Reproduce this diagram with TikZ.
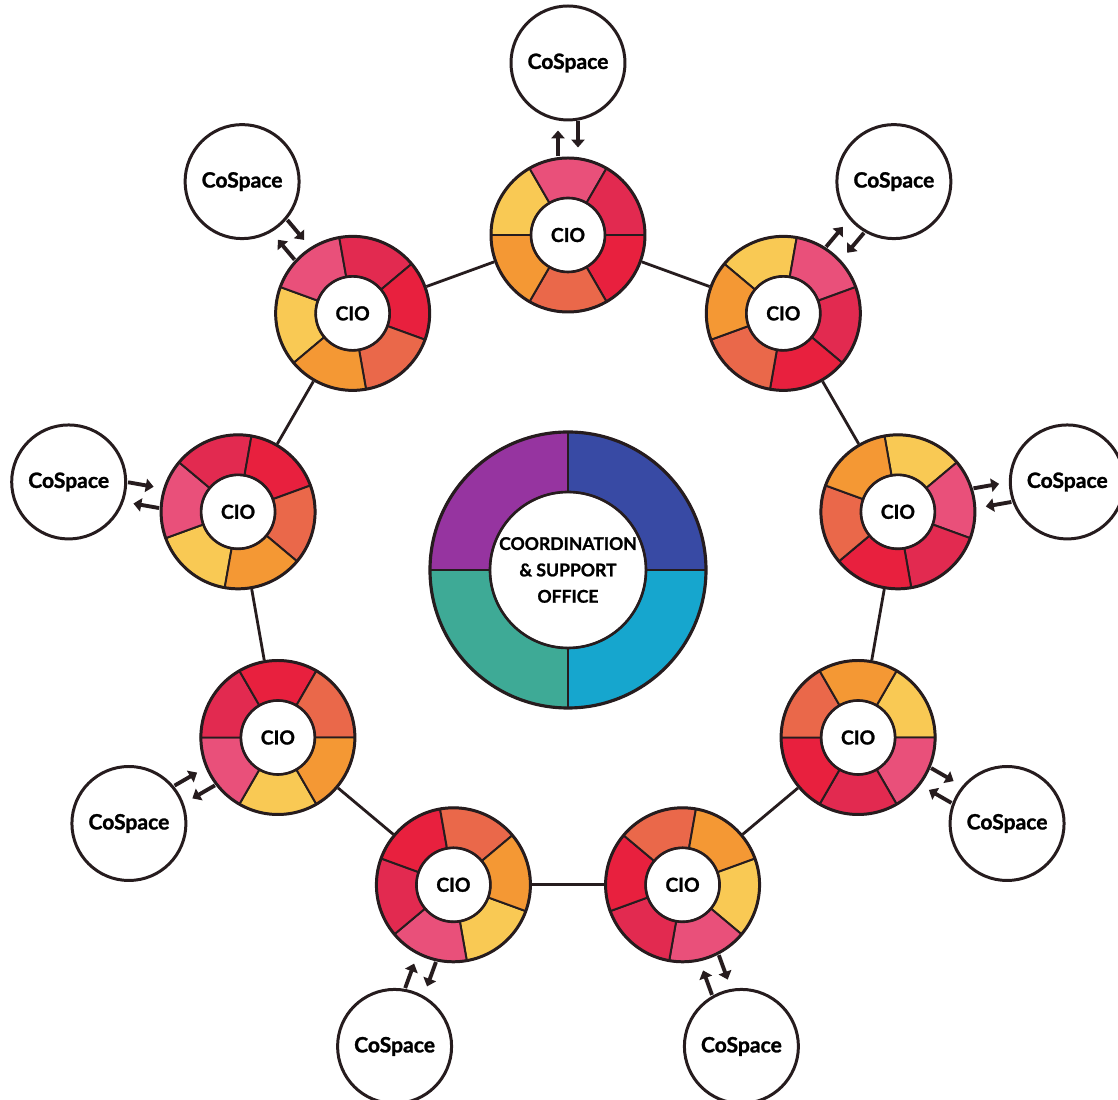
\documentclass[tikz,border=0pt]{standalone}
\usepackage{fontspec}
\setmainfont{Lato}[BoldFeatures={FakeBold=1.3}]
\usetikzlibrary{arrows.meta}
\definecolor{outline}{RGB}{38,28,30}
\definecolor{segyellow}{RGB}{249,201,84}
\definecolor{segpink}{RGB}{233,80,122}
\definecolor{segcrimson}{RGB}{226,42,80}
\definecolor{segred}{RGB}{232,32,62}
\definecolor{segcoral}{RGB}{234,104,74}
\definecolor{segorange}{RGB}{244,152,52}
\definecolor{csopurple}{RGB}{150,52,160}
\definecolor{csoblue}{RGB}{56,74,164}
\definecolor{csoteal}{RGB}{62,170,150}
\definecolor{csocyan}{RGB}{22,166,206}

\begin{document}
\begin{tikzpicture}[
  cio/.style={circle,draw=outline,line width=1.7pt,minimum size=3.08cm,inner sep=0pt,font=\bfseries\fontsize{11}{13}\selectfont},
  cospace/.style={circle,draw=outline,line width=1.7pt,fill=white,minimum size=2.28cm,inner sep=0pt,font=\bfseries\fontsize{12}{14}\selectfont},
  link/.style={draw=outline,line width=1.6pt},
  flow/.style={draw=outline,line width=2.2pt,-{Triangle[length=4.5pt,width=7.5pt]},shorten >=0.18cm}
]
\useasboundingbox (-11.36,-10.60) rectangle (11.0,11.40);

% coordination & support office
\foreach \c [count=\k from 0] in {csoblue,csopurple,csoteal,csocyan}
  \filldraw[fill=\c,draw=outline,line width=1.1pt] (90*\k:2.76) arc[start angle=90*\k,delta angle=90,radius=2.76]
    -- (90*\k+90:1.56) arc[start angle=90*\k+90,delta angle=-90,radius=1.56] -- cycle;
\node[circle,draw=outline,line width=1.8pt,minimum size=5.52cm,align=center,
  font=\bfseries\fontsize{10}{15}\selectfont] (cso) at (0,0) {COORDINATION\\\& SUPPORT\\OFFICE};
\draw[outline,line width=1.5pt] (cso) circle[radius=1.56];

% CIO rings and their CoSpaces
\foreach \i in {0,...,8}{
  \pgfmathsetmacro{\pos}{90-40*\i}
  \foreach \c [count=\k from 0] in {segyellow,segpink,segcrimson,segred,segcoral,segorange}{
    \pgfmathsetmacro{\ang}{\pos+90-60*\k}
    \filldraw[fill=\c,draw=outline,line width=1.1pt] (\pos:6.7) ++(\ang:1.54) arc[start angle=\ang,delta angle=-60,radius=1.54]
      -- ++(\ang-60:-0.8) arc[start angle=\ang-60,delta angle=60,radius=0.74] -- cycle;
  }
  \node[cio] (cio\i) at (\pos:6.7) {CIO};
  \draw[outline,line width=1.5pt] (cio\i) circle[radius=0.74];
  \node[cospace] (cs\i) at (\pos:10.14) {CoSpace};
  \draw[flow,transform canvas={shift={(\pos+90:0.2)}}] (cio\i) -- (cs\i);
  \draw[flow,transform canvas={shift={(\pos-90:0.2)}}] (cs\i) -- (cio\i);
}

% ring of links
\foreach \i [evaluate=\i as \j using {int(mod(\i+1,9))}] in {0,...,8}
  \draw[link] (cio\i) -- (cio\j);
\end{tikzpicture}
\end{document}
